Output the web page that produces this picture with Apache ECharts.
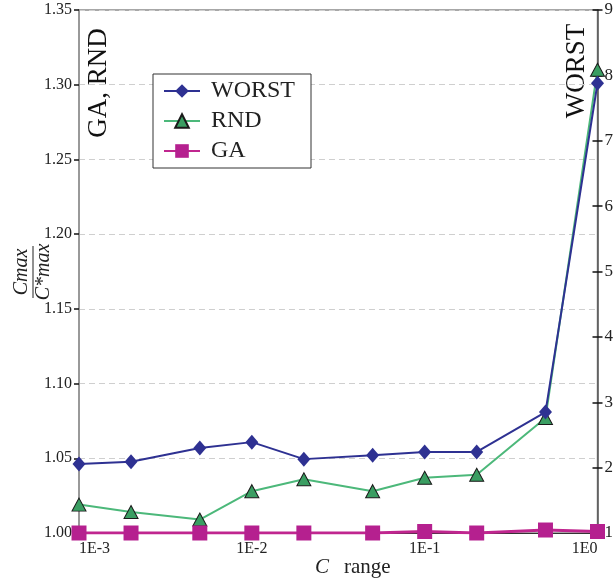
<!DOCTYPE html>
<html>
<head>
<meta charset="utf-8">
<script src="https://cdn.jsdelivr.net/npm/echarts@6/dist/echarts.min.js"></script>
<style>html,body{margin:0;padding:0;background:#fff}#c{width:616px;height:582px}</style>
</head>
<body>
<div id="c"></div>
<script>
var cRange = [0.001, 0.002, 0.005, 0.01, 0.02, 0.05, 0.1, 0.2, 0.5, 1];
var worst = [2.055, 2.09, 2.30, 2.39, 2.13, 2.19, 2.24, 2.24, 2.85, 7.88];
var rnd = [1.019, 1.014, 1.009, 1.028, 1.036, 1.028, 1.037, 1.039, 1.077, 1.310];
var ga = [1.000, 1.000, 1.000, 1.000, 1.000, 1.000, 1.001, 1.000, 1.002, 1.001];
var leftTicks = [1.00, 1.35, 0.05];
var rightTicks = [1, 9, 1];

var FONT = '"Liberation Serif", "DejaVu Serif", serif';
function pairs(ys){ return cRange.map(function(x,i){ return [x, ys[i]]; }); }

var chart = echarts.init(document.getElementById('c'));
chart.setOption({
  animation: false,
  backgroundColor: '#fff',
  grid: {left: 79, right: 17, top: 10, bottom: 49, show: true, borderColor: '#8a8a8a', borderWidth: 1.5, backgroundColor: 'transparent'},
  legend: {
    data: ['WORST', 'RND', 'GA'],
    orient: 'vertical', left: 153, top: 74,
    padding: [5, 16, 5, 10], itemGap: 6, itemWidth: 36, itemHeight: 17,
    borderColor: '#333', borderWidth: 1, backgroundColor: '#fff',
    textStyle: {fontFamily: FONT, fontSize: 24, color: '#222', padding: [0, 0, 0, 6]}
  },
  xAxis: {
    type: 'log', logBase: 10, min: 0.001, max: 1, z: 3,
    axisLine: {lineStyle: {color: '#333', width: 1}},
    axisTick: {show: false}, splitLine: {show: false},
    axisLabel: {fontFamily: FONT, fontSize: 16, color: '#222', margin: 8,
      alignMinLabel: 'left', alignMaxLabel: 'right',
      formatter: function(v){ return '1E' + Math.round(Math.log10(v)); }}
  },
  yAxis: [
    {type: 'value', min: leftTicks[0], max: leftTicks[1], interval: leftTicks[2], position: 'left',
      axisLine: {show: true, lineStyle: {color: '#999', width: 2}},
      axisTick: {show: true, length: 5, lineStyle: {color: '#111', width: 1.5}},
      splitLine: {show: true, lineStyle: {color: '#cfcfcf', type: [6, 4], width: 1}},
      axisLabel: {fontFamily: FONT, fontSize: 16, color: '#222', margin: 7,
        formatter: function(v){ return v.toFixed(2); }}},
    {type: 'value', min: rightTicks[0], max: rightTicks[1], interval: rightTicks[2], position: 'right',
      axisLine: {show: true, lineStyle: {color: '#555', width: 1.5}},
      axisTick: {show: true, length: 5, lineStyle: {color: '#111', width: 1.5}},
      splitLine: {show: false},
      axisLabel: {fontFamily: FONT, fontSize: 17, color: '#222', margin: 7}},
    {type: 'value', min: rightTicks[0], max: rightTicks[1], interval: rightTicks[2], position: 'right',
      axisLine: {show: false},
      axisTick: {show: true, inside: true, length: 5, lineStyle: {color: '#111', width: 1.5}},
      splitLine: {show: false}, axisLabel: {show: false}}
  ],
  series: [
    {name: 'RND', type: 'line', yAxisIndex: 0, data: pairs(rnd), symbol: 'triangle', symbolSize: [14, 13],
      lineStyle: {color: '#4cb87a', width: 2},
      itemStyle: {color: '#3a9e62', borderColor: '#1a1a1a', borderWidth: 1}},
    {name: 'WORST', type: 'line', yAxisIndex: 1, data: pairs(worst), symbol: 'diamond', symbolSize: [13, 15],
      lineStyle: {color: '#2e3192', width: 2},
      itemStyle: {color: '#2e3192', borderWidth: 0}},
    {name: 'GA', type: 'line', yAxisIndex: 0, data: pairs(ga), symbol: 'rect', symbolSize: 15,
      lineStyle: {color: '#c0268f', width: 3},
      itemStyle: {color: '#b5208f', borderWidth: 0}}
  ],
  graphic: [
    {type: 'text', x: 99, y: 83, rotation: Math.PI/2,
      style: {text: 'GA, RND', fontFamily: FONT, fontSize: 27, fill: '#111', align: 'center', verticalAlign: 'middle'}},
    {type: 'text', x: 577, y: 71, rotation: Math.PI/2,
      style: {text: 'WORST', fontFamily: FONT, fontSize: 27, fill: '#111', align: 'center', verticalAlign: 'middle'}},
    {type: 'group', x: 33, y: 272, rotation: Math.PI/2, children: [
      {type: 'text', x: 0, y: -1, style: {text: 'Cmax', fontFamily: FONT, fontStyle: 'italic', fontSize: 20, fill: '#222', align: 'center', verticalAlign: 'bottom'}},
      {type: 'line', shape: {x1: -26, y1: 0, x2: 26, y2: 0}, style: {stroke: '#222', lineWidth: 1}},
      {type: 'text', x: 0, y: 1, style: {text: 'C*max', fontFamily: FONT, fontStyle: 'italic', fontSize: 20, fill: '#222', align: 'center', verticalAlign: 'top'}}
    ]},
    {type: 'text', x: 315, y: 567, style: {text: 'C', fontFamily: FONT, fontStyle: 'italic', fontSize: 21, fill: '#222', align: 'left', verticalAlign: 'middle'}},
    {type: 'text', x: 344, y: 567, style: {text: 'range', fontFamily: FONT, fontSize: 21, fill: '#222', align: 'left', verticalAlign: 'middle'}}
  ]
});
</script>
</body>
</html>
